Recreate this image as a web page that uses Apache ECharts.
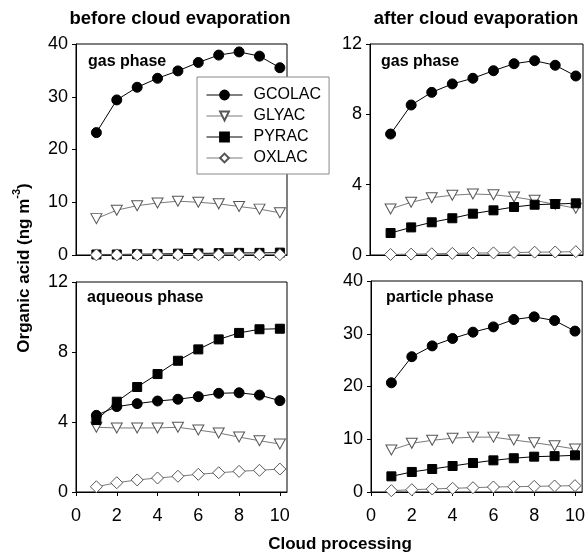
<!DOCTYPE html>
<html>
<head>
<meta charset="utf-8">
<script src="https://cdn.jsdelivr.net/npm/echarts@6/dist/echarts.min.js"></script>
<style>html,body{margin:0;padding:0;background:#fff}#c{width:588px;height:556px}</style>
</head>
<body>
<div id="c"></div>
<script>
// ---- data ----
const cloudSteps = [1, 2, 3, 4, 5, 6, 7, 8, 9, 10];
const xTicks = [0, 2, 4, 6, 8, 10];
const speciesNames = ['GCOLAC', 'GLYAC', 'PYRAC', 'OXLAC'];
const panelTitles = ['before cloud evaporation', 'after cloud evaporation'];
const panelLabels = ['gas phase', 'gas phase', 'aqueous phase', 'particle phase'];

// before cloud evaporation, gas phase
const gasBeforeGCOLAC = [23.2, 29.4, 31.8, 33.5, 34.9, 36.5, 37.9, 38.5, 37.7, 35.5];
const gasBeforeGLYAC  = [6.9, 8.5, 9.35, 9.85, 10.2, 10.0, 9.7, 9.2, 8.7, 8.0];
const gasBeforePYRAC  = [0.1, 0.1, 0.15, 0.2, 0.25, 0.3, 0.35, 0.4, 0.4, 0.45];
const gasBeforeOXLAC  = [0.02, 0.02, 0.03, 0.03, 0.04, 0.04, 0.05, 0.05, 0.06, 0.06];
// after cloud evaporation, gas phase
const gasAfterGCOLAC = [6.88, 8.53, 9.25, 9.73, 10.05, 10.48, 10.88, 11.05, 10.79, 10.18];
const gasAfterGLYAC  = [2.62, 3.0, 3.26, 3.4, 3.47, 3.43, 3.3, 3.11, 2.88, 2.66];
const gasAfterPYRAC  = [1.25, 1.57, 1.86, 2.09, 2.35, 2.54, 2.73, 2.86, 2.9, 2.94];
const gasAfterOXLAC  = [0.03, 0.05, 0.07, 0.09, 0.11, 0.12, 0.14, 0.16, 0.17, 0.19];
// before cloud evaporation, aqueous phase
const aqGCOLAC = [4.38, 4.88, 5.05, 5.2, 5.3, 5.45, 5.64, 5.67, 5.54, 5.22];
const aqGLYAC  = [3.7, 3.66, 3.66, 3.66, 3.7, 3.54, 3.37, 3.14, 2.93, 2.74];
const aqPYRAC  = [4.11, 5.16, 6.0, 6.74, 7.5, 8.15, 8.72, 9.09, 9.3, 9.33];
const aqOXLAC  = [0.3, 0.53, 0.69, 0.8, 0.9, 1.01, 1.1, 1.18, 1.24, 1.31];
// after cloud evaporation, particle phase
const partGCOLAC = [20.7, 25.65, 27.7, 29.1, 30.3, 31.3, 32.7, 33.2, 32.5, 30.5];
const partGLYAC  = [7.96, 9.23, 9.8, 10.2, 10.4, 10.4, 9.86, 9.35, 8.78, 8.15];
const partPYRAC  = [2.97, 3.8, 4.36, 4.93, 5.5, 6.0, 6.4, 6.7, 6.8, 6.95];
const partOXLAC  = [0.25, 0.44, 0.57, 0.7, 0.82, 0.95, 1.0, 1.07, 1.14, 1.2];

const yMaxes = [40, 12, 12, 40];
const yIntervals = [10, 4, 4, 10];

const panelData = [
  [gasBeforeGCOLAC, gasBeforeGLYAC, gasBeforePYRAC, gasBeforeOXLAC],
  [gasAfterGCOLAC, gasAfterGLYAC, gasAfterPYRAC, gasAfterOXLAC],
  [aqGCOLAC, aqGLYAC, aqPYRAC, aqOXLAC],
  [partGCOLAC, partGLYAC, partPYRAC, partOXLAC]
];

// ---- layout / style ----
const FONT = "'Liberation Sans', Arial, sans-serif";
const grids = [
  {left: 76, top: 44, width: 211, height: 211},
  {left: 370, top: 44, width: 213, height: 211},
  {left: 76, top: 282, width: 211, height: 210},
  {left: 371, top: 281, width: 212, height: 211}
];

const styles = [
  {symbol: 'circle', symbolSize: 10, symbolRotate: 0, line: '#000', fill: '#000', border: '#000'},
  {symbol: 'triangle', symbolSize: [11, 10], symbolRotate: 180, line: '#7a7a7a', fill: '#fff', border: '#555'},
  {symbol: 'rect', symbolSize: 9, symbolRotate: 0, line: '#000', fill: '#000', border: '#000'},
  {symbol: 'diamond', symbolSize: [12, 12], symbolRotate: 0, line: '#7a7a7a', fill: '#fff', border: '#555'}
];

const xAxes = grids.map((g, i) => {
  const bottomRow = i >= 2;
  return {
    type: 'value', gridIndex: i, min: 0, max: 10.35, interval: 2,
    axisLine: {show: true, onZero: false, lineStyle: {color: '#000', width: 1}},
    axisTick: {show: bottomRow, length: 4, customValues: xTicks, lineStyle: {color: '#000'}},
    axisLabel: {show: bottomRow, customValues: xTicks, fontSize: 18, fontFamily: FONT, color: '#000', margin: 15,
      formatter: v => (v % 2 === 0 ? String(v) : '')},
    splitLine: {show: false}
  };
});

const yAxes = grids.map((g, i) => ({
  type: 'value', gridIndex: i, min: 0, max: yMaxes[i], interval: yIntervals[i],
  axisLine: {show: true, lineStyle: {color: '#000', width: 1}},
  axisTick: {show: true, length: 4, lineStyle: {color: '#000'}},
  axisLabel: {fontSize: 18, fontFamily: FONT, color: '#000', margin: 8},
  splitLine: {show: false}
}));

const series = [];
panelData.forEach((arrs, p) => {
  arrs.forEach((vals, k) => {
    const s = styles[k];
    series.push({
      name: speciesNames[k], type: 'line', xAxisIndex: p, yAxisIndex: p,
      data: cloudSteps.map((x, j) => [x, vals[j]]),
      symbol: s.symbol, symbolSize: s.symbolSize, symbolRotate: s.symbolRotate,
      showAllSymbol: true, animation: false,
      lineStyle: {color: s.line, width: 1},
      itemStyle: {color: s.fill, borderColor: s.border, borderWidth: 1},
      emphasis: {disabled: true}
    });
  });
});

const txt = (text, x, y, size, bold, align) => ({
  type: 'text', x, y, z: 100,
  style: {text, fontSize: size, fontWeight: bold ? 'bold' : 'normal', fontFamily: FONT, fill: '#000',
    align: align || 'left', verticalAlign: 'middle'}
});

const option = {
  backgroundColor: '#fff',
  animation: false,
  grid: grids.map(g => Object.assign({show: true, borderColor: '#000', borderWidth: 1, backgroundColor: 'transparent', containLabel: false}, g)),
  xAxis: xAxes,
  yAxis: yAxes,
  legend: {
    data: speciesNames, orient: 'vertical', left: 197, top: 77,
    padding: [10, 8, 8, 9], itemWidth: 36, itemHeight: 11, itemGap: 5,
    backgroundColor: '#fff', borderColor: '#888', borderWidth: 1, borderRadius: 0,
    lineStyle: {width: 1},
    textStyle: {fontSize: 16, fontFamily: FONT, color: '#000', padding: [0, 0, 0, 6]},
    selectedMode: false, z: 10
  },
  graphic: [
    txt(panelTitles[0], 180, 19, 18.5, true, 'center'),
    txt(panelTitles[1], 476, 19, 18.5, true, 'center'),
    txt(panelLabels[0], 88, 62, 16, true),
    txt(panelLabels[1], 381, 62, 16, true),
    txt(panelLabels[2], 87, 298, 16, true),
    txt(panelLabels[3], 386, 298, 16, true),
    txt('Cloud processing', 340, 544, 17, true, 'center'),
    {
      type: 'text', x: 22, y: 268, rotation: Math.PI / 2, z: 100,
      style: {
        text: '{a|Organic acid (ng m}{s|-3}{a|)}',
        align: 'center', verticalAlign: 'middle',
        rich: {
          a: {fontSize: 17, fontWeight: 'bold', fontFamily: FONT, fill: '#000', color: '#000', lineHeight: 22, verticalAlign: 'bottom'},
          s: {fontSize: 11, fontWeight: 'bold', fontFamily: FONT, fill: '#000', color: '#000', lineHeight: 22, verticalAlign: 'top'}
        }
      }
    }
  ],
  series
};

const chart = echarts.init(document.getElementById('c'), null, {renderer: 'canvas'});
chart.setOption(option);
</script>
</body>
</html>
